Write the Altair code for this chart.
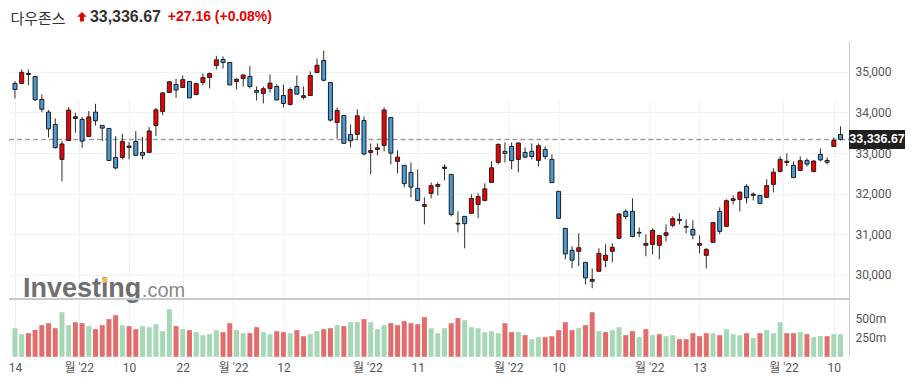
import json
import altair as alt
import pandas as pd

# ---------------- data ----------------
opens = [34715, 34714, 34960, 34886, 34320, 34008, 33705, 32844, 33311, 33853,
         33828, 33410, 34008, 33680, 33607, 32893, 32893, 33139, 33287, 33016,
         33016, 33680, 34025, 34492, 34689, 34615, 34763, 34443, 34738, 34861,
         35156, 35304, 35230, 34763, 34837, 34886, 34541, 34468, 34591, 34640,
         34418, 34197, 34640, 34369, 34418, 34984, 35279, 34738, 33754, 33926,
         33459, 33459, 33803, 33016, 33090, 33188, 33877, 32795, 32697, 32524,
         32131, 31688, 32008, 32180, 32623, 32475, 31270, 31442, 31516, 31737,
         31835, 32278, 32770, 33041, 33164, 32844, 33016, 33041, 32820, 33090,
         32844, 32057, 31147, 30605, 30581, 30310, 29843, 30089, 30360, 30581,
         30901, 31565, 31565, 31048, 30729, 30753, 30729, 30974, 31221, 31368,
         31196, 31122, 30729, 30483, 30802, 31565, 31196, 31835, 31860, 32180,
         31958, 31958, 31909, 32229, 32549, 32770, 32696, 32574, 32820, 32549,
         32967, 32820, 33164, 33459]
highs = [34771, 35058, 35058, 34886, 34443, 34058, 33853, 33295, 34131, 33992,
         33885, 34033, 34213, 33680, 33607, 33418, 33475, 33270, 33541, 33393,
         33639, 34115, 34492, 34763, 34828, 34910, 34763, 34738, 34960, 34984,
         35394, 35378, 35230, 34837, 34935, 35140, 34640, 34640, 34935, 34689,
         34689, 34615, 34910, 34640, 35009, 35329, 35525, 34738, 34123, 33926,
         33705, 34074, 33902, 33238, 33238, 34123, 33877, 33066, 32697, 32770,
         32598, 31909, 32278, 32278, 32721, 32475, 31565, 31442, 31983, 32008,
         32254, 32795, 33238, 33262, 33262, 33262, 33139, 33238, 33238, 33164,
         32967, 32057, 31147, 30704, 31023, 30310, 30163, 30655, 30753, 30778,
         31516, 31614, 31885, 31171, 30999, 31147, 30974, 31245, 31442, 31516,
         31368, 31344, 30974, 30655, 31294, 31663, 31860, 31958, 32057, 32229,
         32032, 31958, 32352, 32623, 32918, 32992, 32795, 32918, 32869, 32820,
         33115, 32893, 33385, 33656]
lows = [34345, 34714, 34673, 34279, 34008, 33385, 33115, 32303, 33311, 33500,
        33131, 33410, 33680, 33295, 32803, 32598, 32844, 32844, 32926, 32844,
        33016, 33418, 33935, 34492, 34361, 34615, 34358, 34420, 34664, 34591,
        35058, 35083, 34678, 34566, 34640, 34591, 34295, 34222, 34492, 34295,
        34123, 34172, 34468, 34320, 34418, 34984, 34763, 33779, 33361, 33240,
        33139, 33311, 32942, 32475, 32942, 33041, 32721, 32500, 32155, 31909,
        31811, 31245, 31885, 31958, 32327, 31442, 31048, 30654, 31516, 31393,
        31811, 32278, 32721, 32770, 32598, 32524, 32869, 32844, 32672, 32844,
        32272, 31392, 30384, 30163, 30212, 29769, 29671, 30089, 30188, 30310,
        30901, 31368, 30925, 30925, 30458, 30507, 30384, 30827, 31171, 31245,
        31023, 30876, 30532, 30163, 30802, 30999, 31196, 31737, 31565, 31762,
        31835, 31737, 31909, 32032, 32524, 32672, 32396, 32549, 32672, 32524,
        32795, 32721, 33164, 33311]
closes = [34566.17, 34988.84, 34934.27, 34312.03, 34079.18, 33596.61, 33131.76, 33223.83, 34058.75, 33892.60,
          33294.95, 33891.35, 33794.66, 33614.80, 32817.38, 32632.64, 33286.25, 33174.07, 32944.19, 32945.24,
          33544.34, 34063.10, 34480.76, 34754.93, 34552.99, 34807.46, 34358.50, 34707.94, 34861.24, 34955.89,
          35294.19, 35228.81, 34678.35, 34818.27, 34921.88, 34641.18, 34496.51, 34583.57, 34721.12, 34308.08,
          34220.36, 34564.59, 34451.23, 34411.69, 34911.20, 35160.79, 34792.76, 33811.40, 34049.46, 33240.18,
          33301.93, 33916.39, 32977.21, 33061.50, 33128.79, 34061.06, 32997.97, 32899.37, 32245.70, 32160.74,
          31834.11, 31730.30, 32196.66, 32223.42, 32654.59, 31490.07, 31253.13, 31261.90, 31880.24, 31928.62,
          32120.28, 32637.19, 33212.96, 32990.12, 32813.23, 33248.28, 32899.70, 32915.78, 33180.14, 32910.90,
          32272.79, 31392.79, 30516.74, 30364.83, 30668.53, 29927.07, 29888.78, 30530.25, 30483.13, 30677.36,
          31500.68, 31438.26, 30946.99, 31029.31, 30775.43, 31097.26, 30967.82, 31037.68, 31384.55, 31338.15,
          31173.84, 30981.33, 30772.79, 30630.17, 31288.26, 31072.61, 31827.05, 31874.84, 32036.90, 31899.29,
          31990.04, 31761.54, 32197.59, 32529.63, 32845.13, 32798.40, 32396.17, 32812.50, 32726.82, 32803.47,
          32832.54, 32774.41, 33309.51, 33336.67]
volumes = [377, 298, 311, 355, 417, 443, 377, 588, 417, 456,
           443, 404, 364, 417, 496, 548, 417, 404, 364, 404,
           390, 430, 338, 627, 404, 364, 351, 325, 285, 298,
           351, 325, 443, 351, 311, 311, 390, 325, 298, 338,
           325, 311, 351, 272, 298, 338, 364, 377, 417, 404,
           456, 456, 496, 456, 364, 417, 443, 417, 469, 443,
           430, 522, 377, 311, 377, 443, 509, 482, 390, 377,
           325, 338, 311, 443, 325, 325, 285, 232, 259, 259,
           272, 351, 456, 351, 377, 417, 588, 338, 325, 351,
           390, 285, 338, 259, 364, 285, 298, 272, 285, 232,
           232, 311, 272, 311, 311, 285, 364, 298, 285, 311,
           246, 311, 351, 311, 456, 311, 311, 325, 298, 259,
           272, 272, 298, 298]
volume_dir = list("ggrrrrrggrrgrrrrgrrgggggrgrggggrrggrrggrrgrrggrrgrggrgggrrrrrrgggrr"
                  "ggggggrrgrggrrrrrgrrgrggrrgrgrggrrrrrgrgggrgrgggrrgrggrgg")

x_tick_pos = [0, 9.5, 17, 25, 32.5, 40, 52.5, 60, 73.5, 81, 94.5, 102, 114.5, 122]
x_tick_labels = ["14", "월 '22", "10", "22", "월 '22", "12", "월 '22", "11",
                 "월 '22", "10", "월 '22", "13", "월 '22", "10"]
price_ticks = [30000, 31000, 32000, 33000, 34000, 35000]
volume_ticks = [250, 500]

title_name = "다우존스"
last_price = 33336.67
last_price_text = "33,336.67"
change_text = "+27.16 (+0.08%)"

# ---------------- styles / layout ----------------
W, H = 841, 317
PRICE_BOTTOM = 258
VOL_BASE = 316
STEP = 6.8
X0 = -1 / STEP
X1 = X0 + W / STEP
UP, DOWN = "#f20000", "#4b9bd6"
VUP, VDOWN = "#a6d7b6", "#e26d6d"
GRID = "#f0f0f0"
AXIS_FONT = "Roboto, 'Noto Sans CJK KR', sans-serif"

df = pd.DataFrame({"i": list(range(len(closes))), "open": opens, "high": highs,
                   "low": lows, "close": closes, "volume": volumes})
df["high"] = df[["high", "open", "close"]].max(axis=1)
df["low"] = df[["low", "open", "close"]].min(axis=1)
df["ccol"] = [UP if c >= o else DOWN for o, c in zip(opens, closes)]
df["vcol"] = [VUP if d == "g" else VDOWN for d in volume_dir]

last_df = pd.DataFrame({"price": [last_price], "label": [last_price_text]})

label_expr = (f"{json.dumps(x_tick_labels, ensure_ascii=False)}"
              f"[indexof({json.dumps(x_tick_pos)}, datum.value)]")

x_axis = alt.Axis(values=x_tick_pos, labelExpr=label_expr, grid=True, gridColor=GRID,
                  ticks=False, tickSize=0, domain=False, labelPadding=5, labelFontSize=12,
                  labelColor="#555555", labelFont=AXIS_FONT, labelFlush=3,
                  labelOverlap=False)


def X():
    return alt.X("i:Q", scale=alt.Scale(domain=[X0, X1], nice=False, zero=False),
                 axis=x_axis, title=None)


price_axis = alt.Axis(orient="right", values=price_ticks, format=",.0f", grid=True,
                      gridColor=GRID, ticks=False, tickSize=0, domainColor="#cccccc",
                      labelPadding=6, labelFontSize=12, labelColor="#555555",
                      labelFont=AXIS_FONT)
price_scale = alt.Scale(domain=[29410, 35755], range=[PRICE_BOTTOM, 0], nice=False, zero=False)


def PY(field):
    return alt.Y(field, type="quantitative", scale=price_scale, axis=price_axis, title=None)


base = alt.Chart(df)

# watermark
wm1 = alt.Chart(pd.DataFrame({"t": ["Investing"]})).mark_text(
    font="Liberation Sans", fontSize=27, fontWeight="bold", color="#6f6f6f",
    align="left", baseline="alphabetic").encode(
    text="t:N", x=alt.value(14), y=alt.value(256))
wm2 = alt.Chart(pd.DataFrame({"t": [".com"]})).mark_text(
    font="Liberation Sans", fontSize=20, color="#8a8a8a",
    align="left", baseline="alphabetic").encode(
    text="t:N", x=alt.value(133), y=alt.value(256))
wm_dot = alt.Chart(pd.DataFrame({"t": ["dot"]})).mark_point(
    shape="M-1,-0.6L0.6,-1L1,0.6L-0.6,1Z", size=36, filled=True, opacity=1,
    color="#f7b75e").encode(x=alt.value(96), y=alt.value(239))

separator = base.mark_rule(color="#c8c8c8", strokeWidth=1.5).encode(
    x=alt.value(0), x2=alt.value(W), y=alt.value(PRICE_BOTTOM))

last_rule = alt.Chart(last_df).mark_rule(color="#9e9e9e", strokeWidth=1.5,
                                         strokeDash=[5, 3]).encode(
    y=PY("price"), x=alt.value(0), x2=alt.value(W))

wick = base.mark_rule(color="#2b2b2b", strokeWidth=1).encode(
    x=X(), y=PY("low"), y2="high")
body = base.mark_bar(size=4, stroke="#1c1c1c", strokeWidth=1).encode(
    x=X(), y=PY("open"), y2="close", color=alt.Color("ccol:N", scale=None))

box = alt.Chart(last_df).mark_point(
    shape="M-2.947,-1L2.947,-1L2.947,1L-2.947,1Z", size=361, filled=True,
    opacity=1, color="#1f1f1f").encode(x=alt.value(W + 28), y=PY("price"))
box_text = alt.Chart(last_df).mark_text(
    font="Liberation Sans", fontSize=12.5, fontWeight="bold", color="white",
    align="center", baseline="middle").encode(
    text="label:N", x=alt.value(W + 28), y=PY("price"))

# title line
TY = -24.5
t_name = alt.Chart(pd.DataFrame({"t": [title_name]})).mark_text(
    font="'Noto Sans CJK KR', sans-serif", fontSize=15, color="#333333",
    align="left", baseline="middle").encode(text="t:N", x=alt.value(1.5), y=alt.value(TY + 2))
t_arrow = alt.Chart(pd.DataFrame({"t": ["up"]})).mark_point(
    shape="M0,-1L1,0L0.42,0L0.42,1L-0.42,1L-0.42,0L-1,0Z", size=90, filled=True,
    opacity=1, color="#e50000").encode(x=alt.value(73), y=alt.value(TY))
t_price = alt.Chart(pd.DataFrame({"t": [last_price_text]})).mark_text(
    font="Liberation Sans", fontSize=16, fontWeight="bold", color="#333333",
    align="left", baseline="middle").encode(text="t:N", x=alt.value(81), y=alt.value(TY))
t_change = alt.Chart(pd.DataFrame({"t": [change_text]})).mark_text(
    font="Liberation Sans", fontSize=14, fontWeight="bold", color="#e50000",
    align="left", baseline="middle").encode(text="t:N", x=alt.value(159), y=alt.value(TY))

price_group = alt.layer(wm1, wm2, wm_dot, separator, last_rule, wick, body,
                        box, box_text, t_name, t_arrow, t_price, t_change)

volume_axis = alt.Axis(orient="right", values=volume_ticks, labelExpr="datum.value + 'm'",
                       grid=False, ticks=False, tickSize=0, domainColor="#cccccc",
                       labelPadding=6, labelFontSize=12, labelColor="#555555",
                       labelFont=AXIS_FONT)
volume = base.mark_bar(size=5).encode(
    x=X(),
    y=alt.Y("volume:Q", scale=alt.Scale(domain=[0, 763], range=[VOL_BASE, PRICE_BOTTOM],
                                         nice=False, zero=True),
            axis=volume_axis, title=None),
    color=alt.Color("vcol:N", scale=None))

chart = alt.layer(price_group, volume).resolve_scale(y="independent").resolve_axis(
    y="independent").properties(
    width=W, height=H, padding={"left": 0, "top": 0, "right": 0, "bottom": 0},
    background="white").configure_view(strokeWidth=0)

chart.save("out.html", embed_options={"renderer": "svg", "actions": False})
